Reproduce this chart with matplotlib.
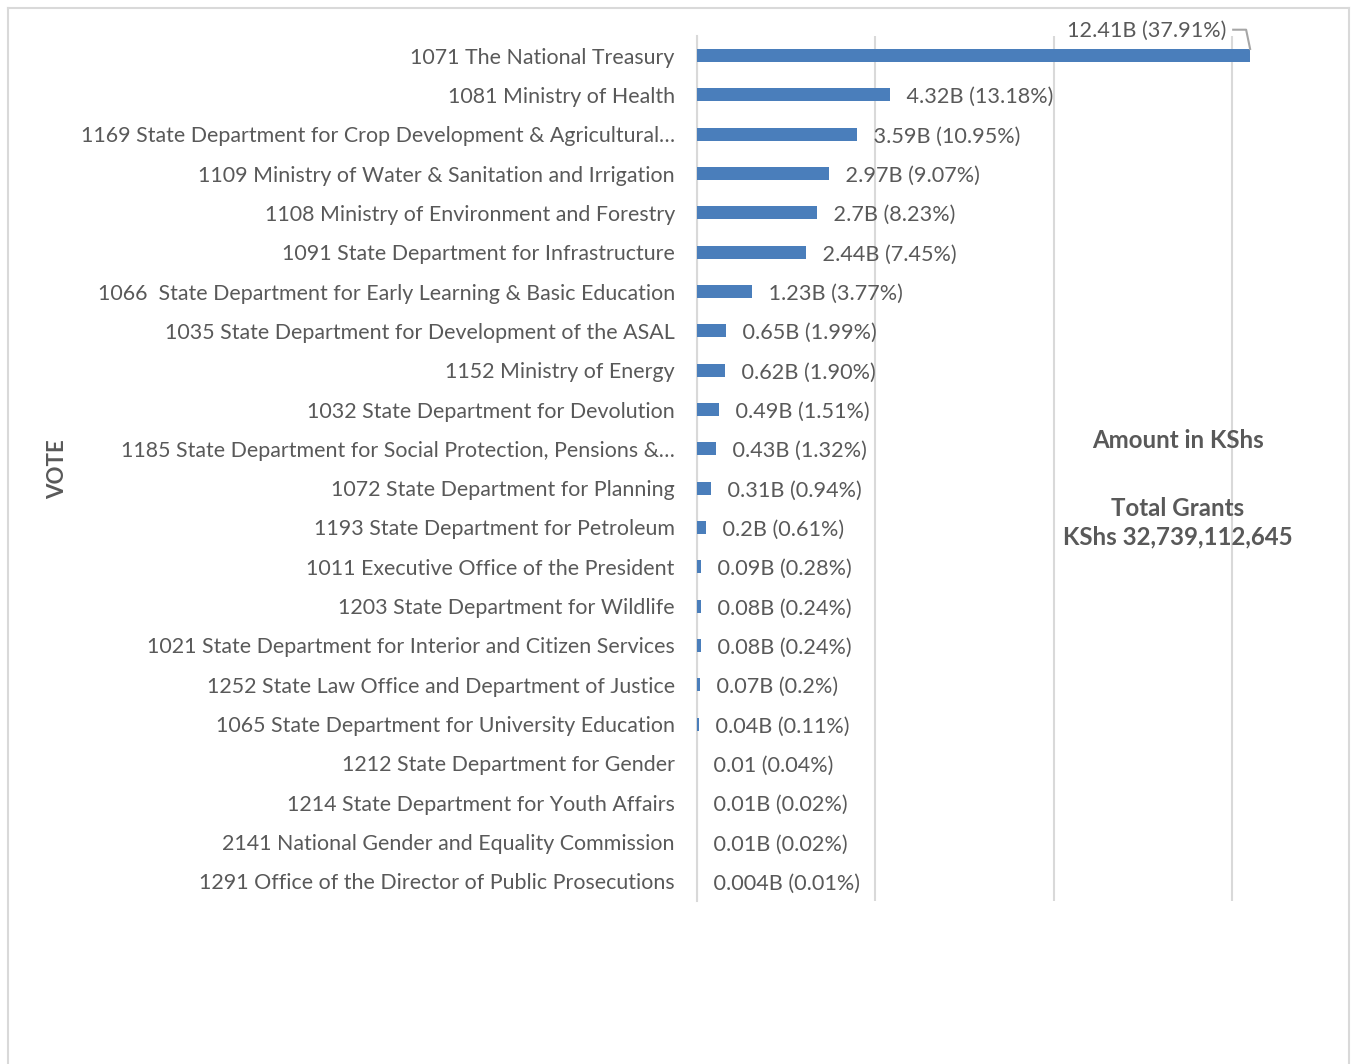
import matplotlib.pyplot as plt
from matplotlib.lines import Line2D

# grants per vote, billions KShs
votes = [
    '1071 The National Treasury',
    '1081 Ministry of Health',
    '1169 State Department for Crop Development & Agricultural\u2026',
    '1109 Ministry of Water & Sanitation and Irrigation',
    '1108 Ministry of Environment and Forestry',
    '1091 State Department for Infrastructure',
    '1066  State Department for Early Learning & Basic Education',
    '1035 State Department for Development of the ASAL',
    '1152 Ministry of Energy',
    '1032 State Department for Devolution',
    '1185 State Department for Social Protection, Pensions &\u2026',
    '1072 State Department for Planning',
    '1193 State Department for Petroleum',
    '1011 Executive Office of the President',
    '1203 State Department for Wildlife',
    '1021 State Department for Interior and Citizen Services',
    '1252 State Law Office and Department of Justice',
    '1065 State Department for University Education',
    '1212 State Department for Gender',
    '1214 State Department for Youth Affairs',
    '2141 National Gender and Equality Commission',
    '1291 Office of the Director of Public Prosecutions',
]
amounts = [12.41, 4.32, 3.59, 2.97, 2.7, 2.44, 1.23, 0.65, 0.62, 0.49, 0.43,
           0.31, 0.2, 0.09, 0.08, 0.08, 0.07, 0.04, 0.01, 0.01, 0.01, 0.004]
bar_labels = ['12.41B (37.91%)', '4.32B (13.18%)', '3.59B (10.95%)', '2.97B (9.07%)',
              '2.7B (8.23%)', '2.44B (7.45%)', '1.23B (3.77%)', '0.65B (1.99%)',
              '0.62B (1.90%)', '0.49B (1.51%)', '0.43B (1.32%)', '0.31B (0.94%)',
              '0.2B (0.61%)', '0.09B (0.28%)', '0.08B (0.24%)', '0.08B (0.24%)',
              '0.07B (0.2%)', '0.04B (0.11%)', '0.01 (0.04%)', '0.01B (0.02%)',
              '0.01B (0.02%)', '0.004B (0.01%)']

txt = '#595959'
grid = '#d9d9d9'
plt.rcParams['font.family'] = ['Lato', 'DejaVu Sans']

fig = plt.figure(figsize=(13.56, 10.64), dpi=100)

# chart border
for xs, ys in [([8, 8], [0, 1056]), ([8, 1349], [1056, 1056]), ([1349, 1349], [1056, 0])]:
    fig.add_artist(Line2D([x / 1356 for x in xs], [y / 1064 for y in ys],
                          color=grid, lw=1.5, transform=fig.transFigure))

ax = fig.add_axes([697 / 1356, 163 / 1064, 624 / 1356, 865 / 1064])
pos = list(range(len(votes)))
ax.barh(pos, amounts, height=0.33, color='#4a7ebb', zorder=3)
ax.set_ylim(len(votes) - 0.5, -0.5)
ax.set_xlim(0, 14)
ax.set_xticks([0, 4, 8, 12])
ax.xaxis.grid(True, color=grid, lw=1.5, zorder=0)
ax.tick_params(axis='x', length=0, labelbottom=False)
ax.tick_params(axis='y', length=0, pad=16, labelsize=15.4, labelcolor=txt)
ax.set_yticks(pos)
ax.set_yticklabels(votes)
for s in ['top', 'right', 'bottom']:
    ax.spines[s].set_visible(False)
ax.spines['left'].set_color(grid)
ax.spines['left'].set_linewidth(1.5)

for i, (v, lab) in enumerate(zip(amounts, bar_labels)):
    if i == 0:
        ax.text(v - 0.54, i - 0.64, lab, ha='right', va='center', fontsize=15.6, color=txt)
        ax.plot([v - 0.38, v - 0.09, v], [i - 0.66, i - 0.66, i - 0.17],
                color='#a6a6a6', lw=1.5, zorder=4, clip_on=False)
    else:
        ax.text(v, i + 0.06, '   ' + lab, ha='left', va='center', fontsize=15.6, color=txt)

fig.text(58 / 1356, 1 - 469 / 1064, 'VOTE', rotation=90, ha='center', va='center',
         fontsize=16, fontweight='bold', color=txt)
fig.text(1178 / 1356, 1 - 441 / 1064, 'Amount in KShs', ha='center', va='center',
         fontsize=17.3, fontweight='bold', color=txt)
fig.text(1178 / 1356, 1 - 523 / 1064, 'Total Grants\nKShs 32,739,112,645', ha='center',
         va='center', fontsize=17.3, fontweight='bold', color=txt, linespacing=1.3)

fig.savefig('out.png', dpi=100)
